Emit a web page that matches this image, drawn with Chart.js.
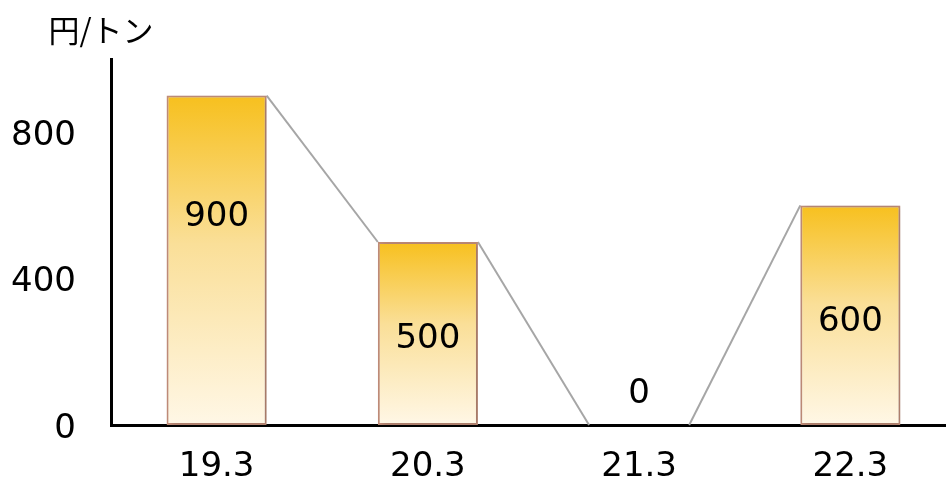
<!DOCTYPE html>
<html>
<head>
<meta charset="utf-8">
<script src="https://cdn.jsdelivr.net/npm/chart.js@4.4.1/dist/chart.umd.min.js"></script>
<style>
  html, body { margin: 0; padding: 0; background: #fff; }
  #wrap { width: 946px; height: 479px; overflow: hidden; position: relative; }
  canvas { display: block; position: absolute; left: 0; top: 0; }
</style>
</head>
<body>
<div id="wrap"><canvas id="c" width="960" height="500"></canvas></div>
<script>
// Price per tonne at each March
const categories = ['19.3', '20.3', '21.3', '22.3'];
const prices = [900, 500, 0, 600];
const yTicks = [0, 400, 800];
const unitLabel = '円/トン';

const FONT = "'DejaVu Sans', Verdana, sans-serif";

// vertical gradient per bar, from golden top to cream base
function barFill(c) {
  const chart = c.chart;
  const y = chart.scales && chart.scales.y;
  if (!chart.chartArea || !y) return '#F7C220';
  const v = c.raw || 0;
  const top = y.getPixelForValue(v);
  const base = y.getPixelForValue(0);
  if (base - top < 1) return 'rgba(0,0,0,0)';
  const g = chart.ctx.createLinearGradient(0, top, 0, base);
  g.addColorStop(0, '#F7C01E');
  g.addColorStop(0.45, '#FADF98');
  g.addColorStop(1, '#FFF7E6');
  return g;
}

// thin grey lines joining neighbouring bar tops
const seriesLines = {
  id: 'seriesLines',
  beforeDatasetsDraw(chart) {
    const bars = chart.getDatasetMeta(0).data;
    const ctx = chart.ctx;
    ctx.save();
    ctx.strokeStyle = '#A6A6A6';
    ctx.lineWidth = 2;
    for (let i = 0; i < bars.length - 1; i++) {
      const a = bars[i], b = bars[i + 1];
      ctx.beginPath();
      ctx.moveTo(a.x + a.width / 2, a.y);
      ctx.lineTo(b.x - b.width / 2, b.y);
      ctx.stroke();
    }
    ctx.restore();
  }
};

// soft drop shadow under the bars
const barShadow = {
  id: 'barShadow',
  beforeDatasetDraw(chart) {
    const ctx = chart.ctx;
    ctx.save();
    ctx.shadowColor = 'rgba(0,0,0,0.2)';
    ctx.shadowBlur = 5;
    ctx.shadowOffsetX = 2;
    ctx.shadowOffsetY = 1;
  },
  afterDatasetDraw(chart) {
    chart.ctx.restore();
  }
};

// value labels, placed at the given heights (in axis units)
const valueLabels = {
  id: 'valueLabels',
  afterDatasetsDraw(chart, args, opts) {
    const bars = chart.getDatasetMeta(0).data;
    const y = chart.scales.y;
    const ctx = chart.ctx;
    ctx.save();
    ctx.font = opts.font;
    ctx.fillStyle = '#000';
    ctx.textAlign = 'center';
    ctx.textBaseline = 'middle';
    bars.forEach((bar, i) => {
      ctx.fillText(String(prices[i]), bar.x, y.getPixelForValue(opts.at[i]) + opts.nudge);
    });
    ctx.restore();
  }
};

// unit caption above the value axis
const unitCaption = {
  id: 'unitCaption',
  afterDraw(chart, args, opts) {
    const ctx = chart.ctx;
    ctx.save();
    ctx.font = opts.font;
    ctx.fillStyle = '#000';
    ctx.textAlign = 'center';
    ctx.textBaseline = 'middle';
    ctx.fillText(unitLabel, chart.chartArea.left - 10, 30);
    ctx.restore();
  }
};

new Chart(document.getElementById('c'), {
  type: 'bar',
  data: {
    labels: categories,
    datasets: [{
      data: prices,
      backgroundColor: barFill,
      borderColor: '#C08C78',
      borderWidth: (c) => (c.raw ? 2 : 0),
      borderSkipped: false,
      categoryPercentage: 1,
      barPercentage: 0.474
    }]
  },
  options: {
    responsive: false,
    devicePixelRatio: 1,
    animation: false,
    layout: { padding: { top: 59, right: 4, left: 0, bottom: 0 } },
    plugins: {
      legend: { display: false },
      tooltip: { enabled: false },
      valueLabels: { at: [574, 241, 90, 287], nudge: 2, font: '34px ' + FONT },
      unitCaption: { font: "31px 'Noto Sans CJK JP', sans-serif" }
    },
    scales: {
      x: {
        grid: { display: false, drawTicks: false },
        border: { color: '#000', width: 3 },
        ticks: { color: '#000', font: { family: FONT, size: 34 }, padding: 22, maxRotation: 0 },
        afterFit(s) { s.height = 75; }
      },
      y: {
        min: 0,
        max: 1000,
        afterBuildTicks(s) { s.ticks = yTicks.map(v => ({ value: v })); },
        grid: { display: false, drawTicks: false },
        border: { color: '#000', width: 3 },
        ticks: { color: '#000', font: { family: FONT, size: 34 }, padding: 35, labelOffset: 4 },
        afterFit(s) { s.width = 111; }
      }
    }
  },
  plugins: [seriesLines, barShadow, valueLabels, unitCaption]
});
</script>
</body>
</html>
